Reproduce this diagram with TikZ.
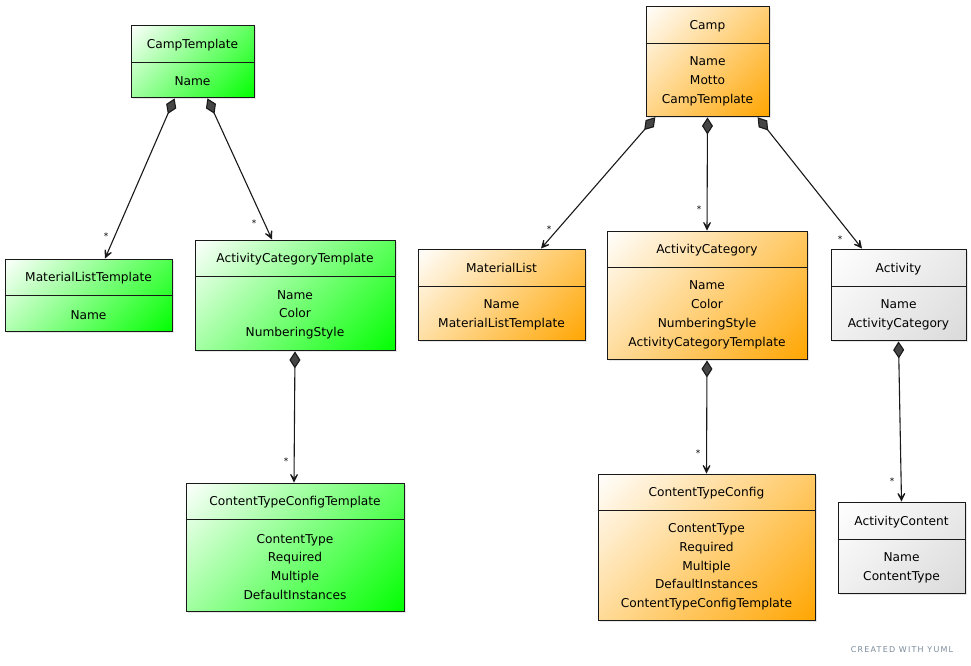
\documentclass[tikz,border=0pt]{standalone}
\usepackage{fontspec}
\setmainfont{DejaVu Sans}
\usetikzlibrary{arrows.meta,shadows,calc}
\definecolor{umlgreen}{HTML}{00FF00}
\definecolor{umlorange}{HTML}{FFA500}
\definecolor{umlgray}{HTML}{DADADA}
\definecolor{yumlgray}{HTML}{7A8A9A}
\definecolor{diamondfill}{HTML}{454545}
\pgfdeclarehorizontalshading{diaggreen}{100bp}{color(0bp)=(white); color(14bp)=(white); color(86bp)=(umlgreen); color(100bp)=(umlgreen)}
\pgfdeclarehorizontalshading{diagorange}{100bp}{color(0bp)=(white); color(14bp)=(white); color(86bp)=(umlorange); color(100bp)=(umlorange)}
\pgfdeclarehorizontalshading{diaggray}{100bp}{color(0bp)=(white); color(14bp)=(white); color(86bp)=(umlgray); color(100bp)=(umlgray)}
\tikzset{
  box/.style={draw=black!90, line width=0.9pt, inner sep=0pt,
    drop shadow={shadow xshift=2pt, shadow yshift=-2pt, opacity=0.2}},
  greenbox/.style={shading=diaggreen, shading angle=-45},
  orangebox/.style={shading=diagorange, shading angle=-45},
  graybox/.style={shading=diaggray, shading angle=-45},
  divider/.style={draw=black!90, line width=0.9pt},
  titletext/.style={font=\fontsize{12.2}{14}\selectfont, inner sep=0pt, text height=8.8pt, text depth=0pt},
  attrtext/.style={font=\fontsize{12.2}{18.8}\selectfont, align=center, inner sep=0pt},
  assoc/.style={draw=black!90, line width=1.1pt, shorten <=1pt,
    {Diamond[length=17pt, width=11pt, fill=diamondfill]}-{Stealth[length=13pt, width=13pt, inset=8.5pt]}},
  star/.style={font=\fontsize{9}{10}\selectfont, inner sep=0pt},
}
\newcommand\umlclass[9]{%
  \node[box, #2, minimum width={(#5-#3)*1pt}, minimum height={(#6-#4)*1pt}]
    (#1) at ({(#3+#5)/2},{(#4+#6)/2}) {};
  \draw[divider] (#1.west |- 0,#7) -- (#1.east |- 0,#7);
  \node[titletext] (#1-title) at ({(#3+#5)/2},{(#4+#7)/2+0.5}) {#8};
  \node[attrtext] (#1-attrs) at ({(#3+#5)/2},{(#7+#6)/2+1.8}) {#9};
}
\begin{document}
\begin{tikzpicture}[x=1pt, y=-1pt]
\useasboundingbox (0,0) rectangle (971,665);
% left (templates)
\umlclass{camptemplate}{greenbox}{131}{25}{254}{97}{62}{CampTemplate}{Name}
\umlclass{mltemplate}{greenbox}{5}{259}{172}{331}{295}{MaterialListTemplate}{Name}
\umlclass{actcattemplate}{greenbox}{195}{240}{395}{350}{276}{ActivityCategoryTemplate}{Name\\Color\\NumberingStyle}
\umlclass{cctemplate}{greenbox}{186}{483}{404}{611}{519}{ContentTypeConfigTemplate}{ContentType\\Required\\Multiple\\DefaultInstances}
% right (instances)
\umlclass{camp}{orangebox}{646}{6}{769}{116}{43}{Camp}{Name\\Motto\\CampTemplate}
\umlclass{materiallist}{orangebox}{418}{249}{585}{340}{286}{MaterialList}{Name\\MaterialListTemplate}
\umlclass{activitycategory}{orangebox}{607}{231}{807}{359}{267}{ActivityCategory}{Name\\Color\\NumberingStyle\\ActivityCategoryTemplate}
\umlclass{activity}{graybox}{831}{249}{966}{340}{286}{Activity}{Name\\ActivityCategory}
\umlclass{ctconfig}{orangebox}{598}{474}{815}{620}{510}{ContentTypeConfig}{ContentType\\Required\\Multiple\\DefaultInstances\\ContentTypeConfigTemplate}
\umlclass{activitycontent}{graybox}{838}{502}{965}{593}{539}{ActivityContent}{Name\\ContentType}
% connectors
\draw[assoc] ($(camptemplate.south)+(-17.5,0)$) -- ($(mltemplate.north)+(16.5,0)$);
\draw[assoc] ($(camptemplate.south)+(14.5,0)$) -- ($(actcattemplate.north)+(-23,0)$);
\draw[assoc] (actcattemplate.south) -- ($(cctemplate.north)+(-1,0)$);
\draw[assoc] ($(camp.south)+(-51.5,0)$) -- ($(materiallist.north)+(39.5,0)$);
\draw[assoc] (camp.south) -- (activitycategory.north);
\draw[assoc] ($(camp.south)+(49.5,0)$) -- ($(activity.north)+(-36.5,0)$);
\draw[assoc] (activitycategory.south) -- (ctconfig.north);
\draw[assoc] (activity.south) -- (activitycontent.north);
% multiplicities
\node[star] (m1) at (106,236) {*};
\node[star] (m2) at (254,223) {*};
\node[star] (m3) at (286,461) {*};
\node[star] (m4) at (549,229) {*};
\node[star] (m5) at (699,209) {*};
\node[star] (m6) at (840,239) {*};
\node[star] (m7) at (698,453) {*};
\node[star] (m8) at (892,481) {*};
% credit
\node[font=\fontsize{8}{9}\selectfont\addfontfeature{LetterSpace=15}, text=yumlgray, inner sep=0pt] (credit) at (902,650) {CREATED WITH YUML};
\end{tikzpicture}
\end{document}
